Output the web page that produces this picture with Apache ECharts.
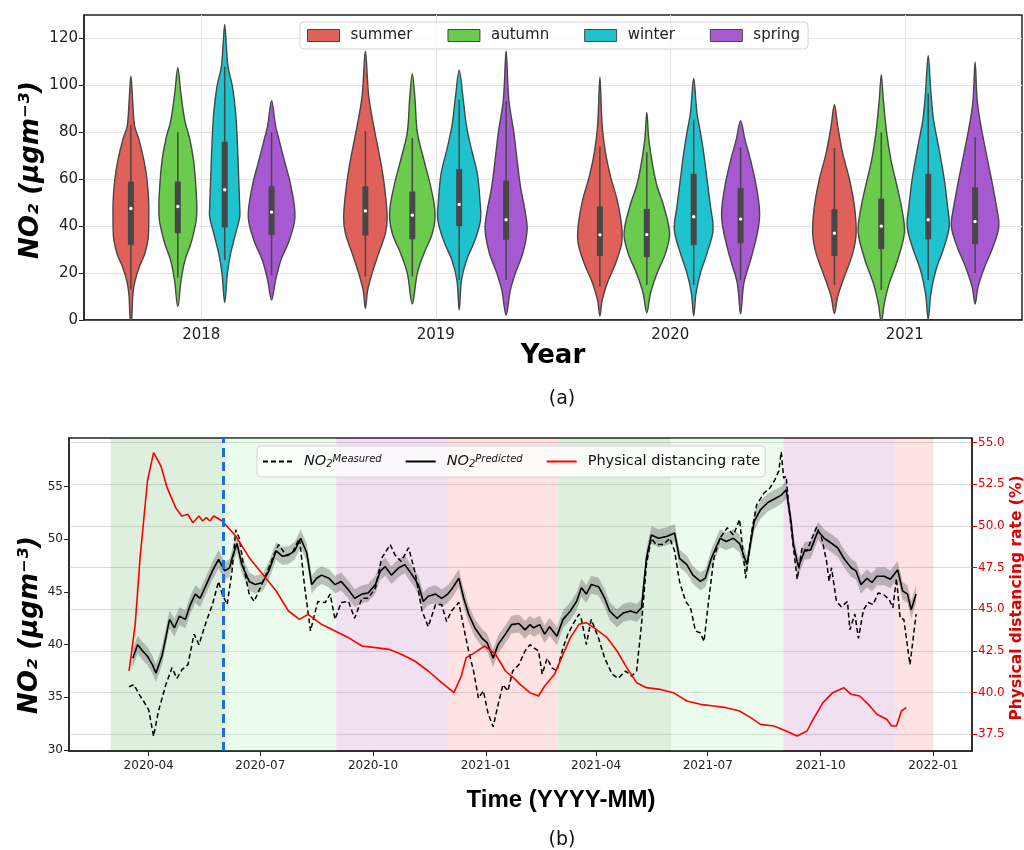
<!DOCTYPE html>
<html><head><meta charset="utf-8">
<script src="https://cdn.jsdelivr.net/npm/echarts@6/dist/echarts.min.js"></script>
<style>html,body{margin:0;padding:0;background:#fff}#c{width:1024px;height:850px}</style>
</head><body><div id="c"></div>
<script>
// ---------- Panel (a): violins ----------
const years = ['2018', '2019', '2020', '2021'];
const seasons = ['summer', 'autumn', 'winter', 'spring'];
const seasonColors = ['#e0605a', '#6acb4c', '#1fc3cd', '#a659d1'];
const yTicksA = [0, 20, 40, 60, 80, 100, 120];

// density profiles per year: [NO2 value, relative half-width], bottom tip -> top tip
const summerProfile = [
  [[-3,0],[0,0.8],[11,2],[17,4.3],[23,8.7],[28,13.7],[34,17],[38,17.7],[51,17.7],[60,16],[68,13],[77,8],[82.6,3.7],[94,1.7],[104,0]],
  [[5,0],[12.8,2.3],[20,6.7],[28.5,13.3],[37,20],[44,21.7],[57,19],[68,15],[82.6,8.3],[95.4,3.3],[114.6,0]],
  [[1.7,0],[8.5,2.3],[15.7,7.3],[24.2,15.7],[32.7,21.7],[40,21.7],[51,17.3],[61,10.7],[71,5.7],[82.6,2.3],[103.5,0]],
  [[2.8,0],[10,3.3],[18.5,10],[28.5,18.3],[37,21.7],[48.4,20],[60,15],[71,8.3],[82.6,3.3],[91.8,0]]
];
const autumnProfile = [
  [[5.7,0],[17,3.3],[25.6,7.3],[34,14],[44,18.7],[57,18],[68,15.7],[77,12],[85,7],[96.8,3],[107.5,0]],
  [[6.8,0],[20,5],[28.5,11.7],[37,20],[45.5,22.7],[57,18.3],[68,11.7],[80,5],[94,2.7],[105,0]],
  [[3.1,0],[11.4,3.7],[20,10.3],[28.5,18.7],[37,22.7],[48.4,17],[57,10.3],[65.5,6],[77,2],[88.5,0]],
  [[-1,0],[7,3],[15.7,8],[25.6,16.3],[37,23],[45.5,21.3],[57,15.7],[68,9.7],[80,5.3],[94,2],[104.6,0]]
];
const winterProfile = [
  [[7.4,0],[20,2.7],[28.5,6],[37,11],[44,15],[48,15],[60,14],[75,12.7],[88,11],[99.6,7.7],[108,3.3],[116.7,1.7],[126,0]],
  [[4.3,0],[17,2.3],[25.6,7.3],[34,15.7],[42.7,21.3],[51,20.7],[62.6,18],[72.6,12.3],[82.6,7.3],[94,4],[106.5,0]],
  [[1.7,0],[11.4,2.3],[20,6.7],[28.5,13.3],[38.4,19.3],[48.4,16.7],[60,13.3],[71,10],[80,6.7],[88,3.3],[103,0]],
  [[0.3,0],[11.4,2.7],[21.3,7.7],[31.3,16],[40,21],[48.4,19.3],[60,16],[74,10.3],[85.4,5.3],[96.8,2.7],[112.7,0]]
];
const springProfile = [
  [[8.5,0],[17,4],[25.6,9.3],[34,17.7],[44,23.3],[57,19.3],[68,12.7],[77,7.3],[82.6,4],[93.5,0]],
  [[2.1,0],[12.8,4.3],[20,9.3],[28.5,16.7],[38.4,21],[45.5,19.3],[57,14.3],[68,11],[80,7.7],[94,2.7],[114.6,0]],
  [[2.6,0],[15.7,3.3],[25.6,10],[37,16.7],[45.5,19],[57,15.7],[68,10],[77,4.3],[85,0]],
  [[6.8,0],[14.2,3],[22.8,9.7],[31.3,18],[40,23.7],[48.4,21.3],[60,16.3],[74,9.7],[85.4,4.7],[94,2],[110,0]]
];
// box stats per year: [whisker low, Q1, median, Q3, whisker high]
const summerBox = [[13,32,47.5,59,83],[18.5,36,46.5,57,80.4],[14.2,27.3,36.3,48.4,74],[15,27.3,37,47.3,73.3]];
const autumnBox = [[18,37,48.4,59,80],[18.5,34.4,44.7,54.8,77.6],[15,26.8,36.4,47.3,71.5],[12.8,30.2,40,51.7,80]];
const winterBox = [[25.6,39.4,55.5,76,108],[17,40,49.3,64.3,94],[15,32,44,62.3,85.4],[17,34.4,42.7,62.3,96.5]];
const springBox = [[19,36.3,46,57,80],[17,34.2,42.7,59.4,93.2],[17,32.7,43,56.2,73.6],[20,32.3,42,56.5,77.9]];
const DENSITY_FULL = 23.4;

// ---------- Panel (b): time series (day offset from 2020-04-01, value) ----------
const xTickLabels = ['2020-04','2020-07','2020-10','2021-01','2021-04','2021-07','2021-10','2022-01'];
const yTicksLeft = [30, 35, 40, 45, 50, 55];
const yTicksRight = [37.5, 40, 42.5, 45, 47.5, 50, 52.5, 55];
const seasonSpans = [
  ['2020-03-01','2020-06-01',0],['2020-06-01','2020-09-01',1],['2020-09-01','2020-12-01',2],['2020-12-01','2021-03-01',3],
  ['2021-03-01','2021-06-01',0],['2021-06-01','2021-09-01',1],['2021-09-01','2021-12-01',2],['2021-12-01','2022-01-01',3]
];
const lockdownDate = '2020-06-01';
const CI_HALF = 0.85;

const measuredNO2 = [[-16,36.0],[-12,36.2],[-8,35.3],[-4,34.6],[0,33.8],[4,31.3],[8,33.7],[14,36.2],[19,37.8],[23,36.8],[27,37.6],[32,38.1],[37,41.0],[41,40.0],[47,42.2],[52,43.8],[57,46.0],[60,44.8],[64,43.8],[68,47.0],[71,50.9],[74,50.1],[78,47.0],[82,44.8],[86,44.1],[91,45.4],[97,47.0],[102,48.5],[106,49.5],[112,48.5],[117,48.7],[123,50.1],[127,45.7],[132,41.3],[136,43.2],[138,44.1],[144,44.0],[148,44.8],[152,42.4],[157,44.0],[163,44.1],[168,42.5],[174,44.4],[179,44.4],[185,45.4],[190,48.2],[197,49.5],[201,48.5],[206,47.9],[212,49.2],[217,47.0],[223,43.2],[228,41.7],[234,43.8],[239,43.8],[243,42.2],[247,43.2],[253,44.0],[257,41.6],[261,39.4],[265,37.5],[269,34.9],[273,35.6],[277,33.4],[281,32.2],[285,34.3],[289,36.2],[293,35.6],[297,37.5],[302,38.1],[307,39.4],[311,40.0],[314,39.7],[318,39.4],[321,37.2],[325,38.7],[329,37.8],[333,37.5],[338,39.7],[342,41.0],[346,41.9],[351,42.9],[353,42.4],[357,40.0],[361,42.4],[367,40.6],[372,38.7],[378,37.2],[383,36.8],[389,37.5],[394,37.0],[398,37.5],[402,41.9],[406,47.6],[410,50.1],[414,49.5],[420,49.5],[425,50.1],[429,48.9],[433,46.0],[438,44.1],[442,43.5],[446,41.3],[450,41.1],[453,40.3],[457,44.4],[461,48.2],[466,50.1],[472,51.1],[477,50.4],[482,51.9],[487,46.3],[492,50.8],[496,53.3],[502,54.4],[507,54.9],[511,55.7],[514,56.5],[516,58.3],[518,55.8],[520,56.0],[522,53.3],[525,50.1],[529,46.2],[533,49.2],[537,48.9],[541,50.1],[545,51.2],[549,50.1],[553,47.9],[555,46.0],[557,47.3],[561,44.1],[565,43.6],[570,44.1],[572,41.4],[576,42.9],[579,40.6],[583,43.3],[587,44.0],[591,43.8],[595,44.9],[599,44.8],[604,44.3],[607,43.5],[610,46.3],[613,42.5],[616,42.4],[621,38.1],[623,40.0],[626,42.9]];

const predictedNO2 = [[-13,38.7],[-9,40.0],[-5,39.4],[-1,38.9],[3,38.1],[6,37.3],[11,39.0],[17,42.4],[21,41.6],[25,42.7],[30,42.4],[34,43.8],[38,44.8],[42,44.4],[47,45.7],[52,47.0],[57,48.1],[62,47.0],[66,47.3],[68,48.2],[72,49.6],[76,47.6],[82,46.0],[87,45.7],[93,45.9],[98,47.0],[104,48.9],[109,48.4],[114,48.5],[119,48.9],[124,50.1],[129,48.7],[133,45.7],[137,46.3],[141,46.6],[147,46.3],[152,45.7],[157,46.0],[163,45.2],[168,44.4],[174,44.8],[179,44.9],[185,45.7],[189,47.0],[193,47.4],[198,46.6],[204,47.3],[209,47.6],[215,46.6],[220,45.7],[224,44.1],[228,44.6],[234,44.8],[239,44.4],[244,44.8],[248,45.4],[253,46.3],[257,44.4],[261,42.9],[266,41.6],[272,40.6],[276,40.2],[281,38.7],[285,40.0],[291,41.0],[296,41.9],[302,42.0],[307,41.4],[311,41.9],[314,41.6],[319,41.9],[323,41.0],[327,41.7],[333,40.8],[338,42.4],[344,43.2],[349,44.1],[353,45.4],[357,44.8],[361,45.7],[367,45.5],[372,44.4],[376,43.2],[382,42.5],[387,43.0],[393,43.2],[398,43.0],[402,43.5],[406,48.2],[410,50.4],[416,50.1],[423,50.3],[429,50.6],[433,48.2],[439,47.6],[444,46.6],[450,46.0],[454,46.3],[459,48.2],[466,50.1],[471,49.8],[477,50.1],[482,49.6],[488,47.6],[494,51.7],[499,52.8],[505,53.5],[510,53.8],[516,54.2],[520,54.7],[524,51.7],[526,49.5],[530,47.4],[535,48.9],[540,49.0],[546,50.8],[551,50.1],[556,49.7],[562,49.2],[567,48.2],[573,47.3],[577,47.0],[581,45.7],[586,46.3],[590,45.9],[594,46.5],[600,46.5],[605,46.2],[611,47.1],[615,45.1],[619,44.8],[622,43.3],[626,44.8]];

const distancingRate = [[-16,41.3],[-11,44.1],[-7,48.1],[-1,52.7],[4,54.4],[10,53.6],[15,52.3],[22,51.1],[27,50.6],[32,50.7],[36,50.2],[41,50.6],[44,50.3],[47,50.5],[50,50.3],[53,50.6],[60,50.3],[71,49.4],[82,48.1],[93,47.1],[104,46.1],[114,44.9],[123,44.4],[130,44.7],[141,44.1],[152,43.7],[163,43.3],[174,42.8],[185,42.7],[196,42.6],[206,42.3],[217,41.9],[228,41.3],[239,40.6],[249,40.0],[255,41.0],[259,42.1],[266,42.4],[274,42.8],[283,42.3],[291,41.3],[299,40.8],[303,40.5],[311,40.0],[318,39.8],[323,40.4],[331,41.1],[338,42.3],[344,43.3],[351,44.1],[357,44.2],[365,43.8],[374,43.3],[382,42.5],[390,41.5],[398,40.6],[406,40.3],[417,40.2],[428,40.0],[439,39.5],[450,39.3],[461,39.2],[471,39.1],[482,38.9],[491,38.5],[499,38.1],[510,38.0],[520,37.7],[529,37.4],[537,37.7],[542,38.4],[550,39.4],[558,40.0],[567,40.3],[573,39.9],[580,39.8],[587,39.3],[594,38.7],[602,38.4],[606,38.0],[610,38.0],[614,38.9],[618,39.1]];

// ---------- helpers ----------
const BASE = Date.UTC(2020, 3, 1);
const toDay = s => { const p = s.split('-').map(Number); return Math.round((Date.UTC(p[0], p[1] - 1, p[2] || 1) - BASE) / 864e5); };
const xTickDays = xTickLabels.map(toDay);
const spanColors = ['rgba(0,128,0,0.13)', 'rgba(144,238,144,0.17)', 'rgba(128,0,128,0.12)', 'rgba(255,0,0,0.11)'];
const OUTLINE = '#474747';

function violinSeries(sIdx, profiles, boxes) {
  return {
    type: 'custom', name: seasons[sIdx], xAxisIndex: 0, yAxisIndex: 0, z: 3, clip: true,
    itemStyle: { color: seasonColors[sIdx], borderColor: OUTLINE, borderWidth: 1 },
    data: years.map((y, i) => [i, boxes[i][2]]),
    renderItem(params, api) {
      const i = api.value(0);
      const band = api.size([1, 0])[0];
      const cx = api.coord([i, 0])[0] + (sIdx - 1.5) * 0.2 * band;
      const k = 0.1 * band / DENSITY_FULL;
      const Y = v => api.coord([i, v])[1];
      const prof = profiles[i];
      const right = prof.map(p => [cx + p[1] * k, Y(p[0])]);
      const left = prof.slice(1, -1).reverse().map(p => [cx - p[1] * k, Y(p[0])]);
      const b = boxes[i];
      return { type: 'group', children: [
        { type: 'polygon', shape: { points: right.concat(left), smooth: 0.35 }, style: { fill: seasonColors[sIdx], stroke: OUTLINE, lineWidth: 1.4 } },
        { type: 'line', shape: { x1: cx, y1: Y(b[0]), x2: cx, y2: Y(b[4]) }, style: { stroke: OUTLINE, lineWidth: 1.5 } },
        { type: 'rect', shape: { x: cx - 3, y: Y(b[3]), width: 6, height: Y(b[1]) - Y(b[3]) }, style: { fill: OUTLINE } },
        { type: 'circle', shape: { cx: cx, cy: Y(b[2]), r: 1.7 }, style: { fill: '#fff' } }
      ]};
    }
  };
}

const chart = echarts.init(document.getElementById('c'), null, { renderer: 'canvas' });
const richLegend = {
  n: { fontStyle: 'italic', fontSize: 14.5, fontFamily: 'DejaVu Sans', color: '#111' },
  sb: { fontStyle: 'italic', fontSize: 10, fontFamily: 'DejaVu Sans', verticalAlign: 'bottom', lineHeight: 10, color: '#111' },
  sp: { fontStyle: 'italic', fontSize: 10, fontFamily: 'DejaVu Sans', verticalAlign: 'top', lineHeight: 10, color: '#111' },
  t: { fontSize: 14.5, fontFamily: 'DejaVu Sans', color: '#111' }
};

const option = {
  animation: false,
  backgroundColor: '#fff',
  textStyle: { fontFamily: 'DejaVu Sans' },
  title: [
    { text: '(a)', left: 557, top: 385, textAlign: 'center', textStyle: { fontSize: 19, fontWeight: 'normal', color: '#111', fontFamily: 'DejaVu Sans' } },
    { text: '(b)', left: 557, top: 826, textAlign: 'center', textStyle: { fontSize: 19, fontWeight: 'normal', color: '#111', fontFamily: 'DejaVu Sans' } }
  ],
  grid: [
    { left: 84, top: 15, width: 938, height: 305, show: true, borderColor: '#222', borderWidth: 1.5, containLabel: false },
    { left: 69, top: 438, width: 903, height: 313, show: true, borderColor: '#222', borderWidth: 1.5, containLabel: false }
  ],
  legend: [
    { data: seasons, left: 300, top: 22, orient: 'horizontal', icon: 'rect', itemWidth: 32, itemHeight: 12, itemGap: 35,
      padding: [6, 8, 6, 7], backgroundColor: 'rgba(255,255,255,0.85)', borderColor: '#d4d4d4', borderWidth: 1, borderRadius: 4,
      selectedMode: false, itemStyle: { borderColor: OUTLINE, borderWidth: 1 },
      textStyle: { fontSize: 15, color: '#222', padding: [0, 0, 0, 6], fontFamily: 'DejaVu Sans' } },
    { data: ['NO2 Measured', 'NO2 Predicted', 'Physical distancing rate'], left: 257, top: 446, itemWidth: 30, itemHeight: 14, itemGap: 23,
      padding: [8, 5, 8, 5], backgroundColor: 'rgba(255,255,255,0.8)', borderColor: '#d4d4d4', borderWidth: 1, borderRadius: 4,
      selectedMode: false, itemStyle: { opacity: 0, borderWidth: 0 },
      formatter: name => name === 'NO2 Measured' ? '{n|NO}{sb|2}{sp|Measured}' : name === 'NO2 Predicted' ? '{n|NO}{sb|2}{sp|Predicted}' : '{t|' + name + '}',
      textStyle: { padding: [0, 0, 0, 6], rich: richLegend } }
  ],
  xAxis: [
    { type: 'category', gridIndex: 0, data: years, boundaryGap: true,
      axisLine: { lineStyle: { color: '#222', width: 1.5 } },
      axisTick: { alignWithLabel: true, length: 5, lineStyle: { color: '#222' } },
      axisLabel: { fontSize: 15, color: '#222', margin: 8 },
      splitLine: { show: true, alignWithLabel: true, lineStyle: { color: '#e4e4e4', width: 1 } } },
    { type: 'value', gridIndex: 1, min: -65, max: 671.6,
      axisLine: { onZero: false, lineStyle: { color: '#222', width: 1.5 } },
      axisTick: { show: true, length: 5, customValues: xTickDays, lineStyle: { color: '#222' } },
      axisLabel: { fontSize: 12, color: '#222', margin: 9, customValues: xTickDays,
        formatter: v => { const i = xTickDays.indexOf(Math.round(v)); return i >= 0 ? xTickLabels[i] : ''; } },
      splitLine: { show: false } }
  ],
  yAxis: [
    { type: 'value', gridIndex: 0, min: 0, max: 130,
      axisLine: { show: true, onZero: false, lineStyle: { color: '#222', width: 1.5 } },
      axisTick: { show: true, length: 5, customValues: yTicksA, lineStyle: { color: '#222' } },
      axisLabel: { fontSize: 15, color: '#222', margin: 6, customValues: yTicksA },
      splitLine: { show: true, lineStyle: { color: '#e4e4e4', width: 1 } } },
    { type: 'value', gridIndex: 1, min: 29.9, max: 59.62,
      axisLine: { show: true, onZero: false, lineStyle: { color: '#222', width: 1.5 } },
      axisTick: { show: true, length: 5, customValues: yTicksLeft, lineStyle: { color: '#222' } },
      axisLabel: { fontSize: 12, color: '#222', margin: 6, customValues: yTicksLeft },
      splitLine: { show: false } },
    { type: 'value', gridIndex: 1, position: 'right', min: 36.5, max: 55.28,
      axisLine: { show: true, onZero: false, lineStyle: { color: '#222', width: 1.5 } },
      axisTick: { show: true, length: 5, customValues: yTicksRight, lineStyle: { color: '#e00000' } },
      axisLabel: { fontSize: 12, color: '#e00000', margin: 6, customValues: yTicksRight, formatter: v => v.toFixed(1) },
      splitLine: { show: true, lineStyle: { color: '#dcdcdc', width: 1 } } }
  ],
  graphic: [
    { type: 'text', x: 31, y: 170, rotation: Math.PI / 2, style: { text: 'NO₂ (μgm⁻³)', font: 'italic bold 26px "DejaVu Sans"', fill: '#000', align: 'center', verticalAlign: 'middle' } },
    { type: 'text', x: 553, y: 356, style: { text: 'Year', font: 'bold 26px "DejaVu Sans"', fill: '#000', align: 'center', verticalAlign: 'middle' } },
    { type: 'text', x: 30, y: 625, rotation: Math.PI / 2, style: { text: 'NO₂ (μgm⁻³)', font: 'italic bold 26px "DejaVu Sans"', fill: '#000', align: 'center', verticalAlign: 'middle' } },
    { type: 'text', x: 561, y: 800, style: { text: 'Time (YYYY-MM)', font: 'bold 24px "Liberation Sans"', fill: '#000', align: 'center', verticalAlign: 'middle' } },
    { type: 'text', x: 1017, y: 598, rotation: Math.PI / 2, style: { text: 'Physical distancing rate (%)', font: 'bold 15.5px "DejaVu Sans"', fill: '#e00000', align: 'center', verticalAlign: 'middle' } }
  ],
  series: [
    violinSeries(0, summerProfile, summerBox),
    violinSeries(1, autumnProfile, autumnBox),
    violinSeries(2, winterProfile, winterBox),
    violinSeries(3, springProfile, springBox),
    { type: 'custom', name: 'seasons', xAxisIndex: 1, yAxisIndex: 1, z: 1, silent: true,
      data: seasonSpans.map(s => [toDay(s[0]), toDay(s[1]), s[2]]),
      encode: { x: [0, 1] },
      renderItem(params, api) {
        const x1 = api.coord([api.value(0), 40])[0];
        const x2 = api.coord([api.value(1), 40])[0];
        const cs = params.coordSys;
        return { type: 'rect', shape: { x: x1, y: cs.y, width: x2 - x1, height: cs.height }, style: { fill: spanColors[api.value(2)] } };
      } },
    { type: 'custom', name: 'ci-band', xAxisIndex: 1, yAxisIndex: 1, z: 2, silent: true,
      data: predictedNO2, encode: { x: 0, y: 1 },
      renderItem(params, api) {
        if (params.dataIndex !== 0) return null;
        const up = predictedNO2.map(p => api.coord([p[0], p[1] + CI_HALF]));
        const lo = predictedNO2.slice().reverse().map(p => api.coord([p[0], p[1] - CI_HALF]));
        return { type: 'polygon', shape: { points: up.concat(lo) }, style: { fill: 'rgba(60,60,60,0.3)' } };
      } },
    { type: 'line', name: 'NO2 Measured', xAxisIndex: 1, yAxisIndex: 1, symbol: 'none', z: 4,
      itemStyle: { color: '#000' }, lineStyle: { color: '#000', width: 1.5, type: [5, 3] },
      data: measuredNO2,
      markLine: { symbol: 'none', silent: true, label: { show: false }, lineStyle: { color: '#1f6fd2', width: 3, type: [9, 5] },
        data: [{ xAxis: toDay(lockdownDate) }] } },
    { type: 'line', name: 'NO2 Predicted', xAxisIndex: 1, yAxisIndex: 1, symbol: 'none', z: 4,
      itemStyle: { color: '#000' }, lineStyle: { color: '#000', width: 1.6 },
      data: predictedNO2 },
    { type: 'line', name: 'Physical distancing rate', xAxisIndex: 1, yAxisIndex: 2, symbol: 'none', z: 4,
      itemStyle: { color: '#ff0000' }, lineStyle: { color: '#ff0000', width: 1.6 },
      data: distancingRate }
  ]
};
chart.setOption(option);
</script></body></html>
